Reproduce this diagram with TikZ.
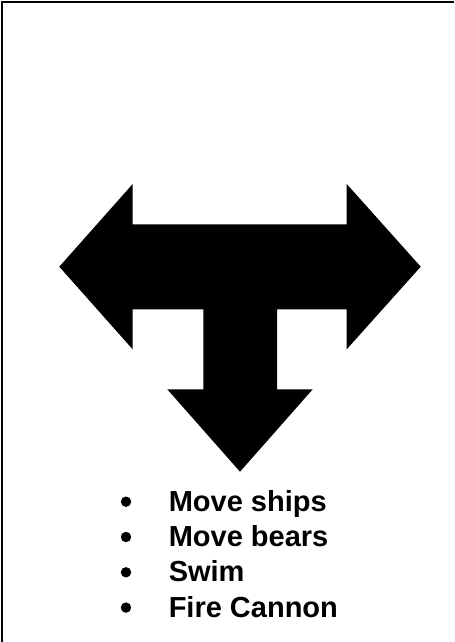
\documentclass[tikz,border=0pt]{standalone}
\usepackage{fontspec}
\setmainfont{Liberation Sans}
\begin{document}
\begin{tikzpicture}[x=0.75pt,y=-0.75pt,
  item/.style={anchor=base west, inner sep=0pt, font=\fontsize{21.75}{26}\selectfont\bfseries},
  dot/.style={circle, fill=black, minimum size=7.8pt, inner sep=0pt},
  frameline/.style={line width=1.5pt, black}]
\useasboundingbox (0,0) rectangle (454,642);
\fill[white] (0,0) rectangle (454,642);
\draw[frameline] (2,642) -- (2,2) -- (454,2);
% T-shaped three-way arrow
\fill[black] (59.3,266.7) -- (132.7,184) -- (132.7,224.3) -- (346.7,224.3) -- (346.7,184)
  -- (420.7,266.7) -- (346.7,349.3) -- (346.7,309.3) -- (277,309.3) -- (277,389.3)
  -- (312.7,389.3) -- (240,471.7) -- (167.3,389.3) -- (203.3,389.3) -- (203.3,309.3)
  -- (132.7,309.3) -- (132.7,349.3) -- cycle;
% bullet list
\node[item] (t1) at (168.5,511.3) {Move ships};
\node[item] (t2) at (168.5,546.6) {Move bears};
\node[item] (t3) at (168.5,581.9) {Swim};
\node[item] (t4) at (168.5,617.2) {Fire Cannon};
\node[dot] (b1) at (126,501.7) {};
\node[dot] (b2) at (126,537.0) {};
\node[dot] (b3) at (126,572.3) {};
\node[dot] (b4) at (126,607.6) {};
\end{tikzpicture}
\end{document}
